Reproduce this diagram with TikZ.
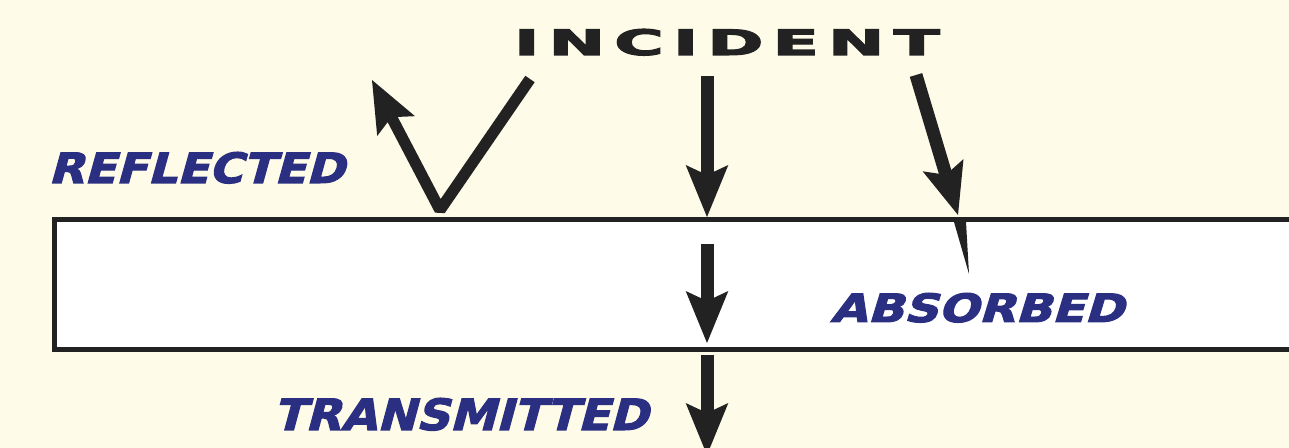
\documentclass[tikz,border=0pt]{standalone}
\usepackage{fontspec}
\usepackage{graphicx}
\usetikzlibrary{arrows.meta}

\newfontfamily\capsfont{DejaVu Sans}[FakeBold=3]
\newfontfamily\tagfont{DejaVu Sans}[FakeSlant=0.25, FakeBold=2.5]
\definecolor{cream}{HTML}{FEFBE8}
\definecolor{navy}{HTML}{2B2F82}
\definecolor{ink}{HTML}{222222}

\begin{document}
\begin{tikzpicture}[x=0.75pt, y=-0.75pt,
    ray/.style={draw=ink, line width=9.75pt,
      -{Stealth[length=39pt, width=32pt, inset=7.5pt, line width=0pt]}},
    tag/.style={text=navy, inner sep=0pt, anchor=base west}]
    % Background
    \fill[cream] (0,0) rectangle (1289,448);
    \useasboundingbox (0,0) rectangle (1289,448);
    \clip (0,0) rectangle (1289,448);

    % Slab
    \draw[ink, line width=3.75pt, fill=white] (54,219.5) rectangle (1320,350);

    % Ray end points
    \coordinate (refl-src) at (530,79);
    \coordinate (refl-hit) at (440,210);
    \coordinate (refl-tip) at (372,80);
    \coordinate (mid-src) at (707,76);
    \coordinate (mid-tip) at (707,217);
    \coordinate (in-src) at (707,244);
    \coordinate (in-tip) at (707,343);
    \coordinate (out-src) at (707,355);
    \coordinate (out-tip) at (707,455);
    \coordinate (abs-src) at (916,75);
    \coordinate (abs-tip) at (958,215);

    % Rays
    \draw[ray, line width=8.5pt, line join=bevel] (refl-src) -- (refl-hit) -- (refl-tip);
    \draw[ray] (mid-src) -- (mid-tip);
    \draw[ray] (in-src) -- (in-tip);
    \draw[ray] (out-src) -- (out-tip);
    \draw[ray] (abs-src) -- (abs-tip);

    % Absorbed tail
    \fill[ink] (954,222) -- (966,222) -- (969,274) -- cycle;

    % Labels
    \node[inner sep=0pt, anchor=base west, text=ink] (incident) at (514,55)
      {\resizebox{319pt}{19.5pt}{\capsfont\bfseries I\kern.14em N\kern.14em C\kern.14em I\kern.14em D\kern.14em E\kern.14em N\kern.14em T}};
    \node[tag] (reflected) at (48,183) {\resizebox{222pt}{23.25pt}{\tagfont\bfseries REFLECTED}};
    \node[tag] (absorbed) at (830,322) {\resizebox{220pt}{21.75pt}{\tagfont\bfseries ABSORBED}};
    \node[tag] (transmitted) at (273,430) {\resizebox{281pt}{24pt}{\tagfont\bfseries TRANSMITTED}};
\end{tikzpicture}
\end{document}
